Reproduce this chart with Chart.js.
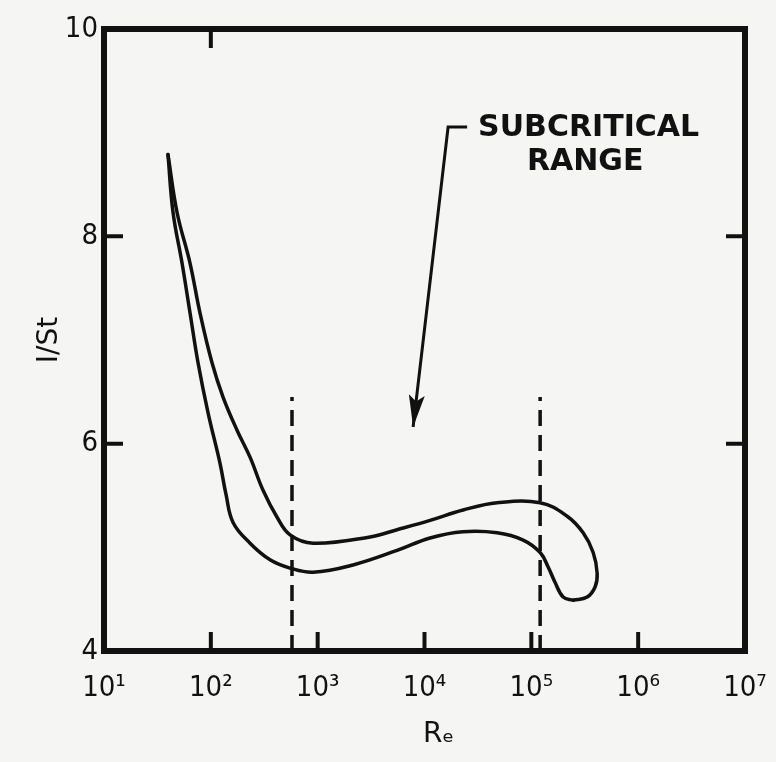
<!DOCTYPE html>
<html>
<head>
<meta charset="utf-8">
<script src="https://cdn.jsdelivr.net/npm/chart.js@4.4.1/dist/chart.umd.min.js"></script>
<style>
html,body{margin:0;padding:0;background:#f5f5f3;}
#wrap{width:776px;height:762px;}
</style>
</head>
<body>
<div id="wrap"><canvas id="c" width="776" height="762"></canvas></div>
<script>
// ---- axis ticks ----
const xTickValues = [1e1, 1e2, 1e3, 1e4, 1e5, 1e6, 1e7];
const xTickLabels = ['10\u00B9', '10\u00B2', '10\u00B3', '10\u2074', '10\u2075', '10\u2076', '10\u2077'];
const yTickValues = [4, 6, 8, 10];
const yTickLabels = ['4', '6', '8', '10'];
const innerTickBottom = [1e2, 1e3, 1e4, 1e5, 1e6];
const innerTickTop = [1e2];
const innerTickSides = [6, 8];

// ---- curve: lower (outer) branch, from the top-left tip to the bottom of the hook ----
const lowerRe = [39.7, 44.3, 53.8, 63.9, 75.9, 94.1, 121.9, 138.7, 161.4, 232.8, 358.3, 551.4, 905.6, 2145, 5534, 11270, 22960, 47840, 83780, 120900, 143700, 167000, 198600, 246300];
const lowerSt = [8.79, 8.23, 7.74, 7.26, 6.78, 6.30, 5.81, 5.51, 5.24, 5.04, 4.88, 4.80, 4.76, 4.83, 4.97, 5.09, 5.15, 5.14, 5.07, 4.95, 4.81, 4.66, 4.52, 4.49];

// ---- curve: upper (inner) branch, from the bottom of the hook back to the tip ----
const upperRe = [246300, 333100, 395800, 413200, 379100, 305500, 216400, 120900, 47840, 22960, 11270, 5534, 3095, 905.6, 551.4, 416.9, 308.2, 232.8, 175.9, 130.1, 102.6, 79.2, 63.9, 48.3, 39.7];
const upperSt = [4.49, 4.52, 4.62, 4.75, 4.95, 5.14, 5.30, 5.43, 5.43, 5.36, 5.26, 5.17, 5.10, 5.04, 5.12, 5.29, 5.55, 5.87, 6.13, 6.45, 6.78, 7.26, 7.74, 8.23, 8.79];

// ---- dashed limits of the subcritical range ----
const limitRe = [575, 120900];
const limitSt = [4, 6.45];

// ---- annotation ----
const arrowRe = [25060, 16630, 7823];
const arrowSt = [9.054, 9.054, 6.161];
const noteLines = ['SUBCRITICAL', 'RANGE'];
const noteRe = [344000, 319000];
const noteSt = [9.06, 8.73];

const INK = '#111111';
const pts = (xs, ys) => xs.map((x, i) => ({x: x, y: ys[i]}));

const datasets = [
  {data: pts(lowerRe, lowerSt), borderColor: INK, borderWidth: 3.5, tension: 0.4, showLine: true, pointRadius: 0, borderCapStyle: 'round', borderJoinStyle: 'round'},
  {data: pts(upperRe, upperSt), borderColor: INK, borderWidth: 3.5, tension: 0.4, showLine: true, pointRadius: 0, borderCapStyle: 'round', borderJoinStyle: 'round'}
];
limitRe.forEach(r => {
  datasets.push({data: limitSt.map(s => ({x: r, y: s})), borderColor: INK, borderWidth: 3.5, borderDash: [16, 9], showLine: true, pointRadius: 0, tension: 0});
});
datasets.push({data: pts(arrowRe, arrowSt), borderColor: INK, borderWidth: 3, showLine: true, pointRadius: 0, tension: 0});

const decor = {
  id: 'decor',
  afterDatasetsDraw(chart) {
    const {ctx, chartArea: a, scales: {x, y}} = chart;
    ctx.save();
    ctx.strokeStyle = INK;
    ctx.fillStyle = INK;
    // frame
    ctx.lineWidth = 6;
    ctx.strokeRect(a.left, a.top, a.right - a.left, a.bottom - a.top);
    // inward ticks
    ctx.lineWidth = 4;
    const L = 19;
    ctx.beginPath();
    innerTickBottom.forEach(v => { const px = x.getPixelForValue(v); ctx.moveTo(px, a.bottom); ctx.lineTo(px, a.bottom - L); });
    innerTickTop.forEach(v => { const px = x.getPixelForValue(v); ctx.moveTo(px, a.top); ctx.lineTo(px, a.top + L); });
    innerTickSides.forEach(v => { const py = y.getPixelForValue(v); ctx.moveTo(a.left, py); ctx.lineTo(a.left + L, py); ctx.moveTo(a.right, py); ctx.lineTo(a.right - L, py); });
    ctx.stroke();
    // arrow head
    const n = arrowRe.length;
    const tx = x.getPixelForValue(arrowRe[n - 1]), ty = y.getPixelForValue(arrowSt[n - 1]);
    const fx = x.getPixelForValue(arrowRe[n - 2]), fy = y.getPixelForValue(arrowSt[n - 2]);
    const ang = Math.atan2(ty - fy, tx - fx);
    const hl = 32, hw = 8;
    ctx.beginPath();
    ctx.moveTo(tx, ty);
    ctx.lineTo(tx - hl * Math.cos(ang) + hw * Math.sin(ang), ty - hl * Math.sin(ang) - hw * Math.cos(ang));
    ctx.lineTo(tx - hl * 0.8 * Math.cos(ang), ty - hl * 0.8 * Math.sin(ang));
    ctx.lineTo(tx - hl * Math.cos(ang) - hw * Math.sin(ang), ty - hl * Math.sin(ang) + hw * Math.cos(ang));
    ctx.closePath();
    ctx.fill();
    // note text
    ctx.font = 'bold 30px "DejaVu Sans"';
    ctx.textAlign = 'center';
    ctx.textBaseline = 'middle';
    noteLines.forEach((t, i) => ctx.fillText(t, x.getPixelForValue(noteRe[i]), y.getPixelForValue(noteSt[i]) + 2));
    ctx.restore();
  }
};

new Chart(document.getElementById('c'), {
  type: 'scatter',
  data: {datasets: datasets},
  options: {
    responsive: false,
    animation: false,
    layout: {padding: {top: 29, right: 31, left: 0, bottom: 0}},
    plugins: {legend: {display: false}, tooltip: {enabled: false}},
    scales: {
      x: {
        type: 'logarithmic', min: 10, max: 1e7,
        afterFit(s) { s.height = 111; s.paddingLeft = 0; s.paddingRight = 0; },
        afterBuildTicks(s) { s.ticks = xTickValues.map(v => ({value: v, major: true})); },
        grid: {display: false, drawTicks: false},
        border: {display: false},
        ticks: {
          padding: 20, color: INK, maxRotation: 0, autoSkip: false,
          font: {family: '"DejaVu Sans Condensed", "DejaVu Sans"', size: 29},
          callback(v) { const i = xTickValues.indexOf(v); return i >= 0 ? xTickLabels[i] : ''; }
        },
        title: {display: true, text: '\u2002\u2002R\u2091', color: INK, font: {family: '"DejaVu Sans"', size: 28}, padding: {top: 0, bottom: 10}}
      },
      y: {
        type: 'linear', min: 4, max: 10,
        afterFit(s) { s.width = 104; s.paddingTop = 0; s.paddingBottom = 0; },
        afterBuildTicks(s) { s.ticks = yTickValues.map(v => ({value: v})); },
        grid: {display: false, drawTicks: false},
        border: {display: false},
        ticks: {
          padding: 6, color: INK,
          font: {family: '"DejaVu Sans Condensed", "DejaVu Sans"', size: 29},
          callback(v) { const i = yTickValues.indexOf(v); return i >= 0 ? yTickLabels[i] : ''; }
        },
        title: {display: true, text: 'I/St', color: INK, font: {family: '"DejaVu Sans"', size: 28}, padding: {top: 33, bottom: 0}}
      }
    }
  },
  plugins: [decor]
});
</script>
</body>
</html>
